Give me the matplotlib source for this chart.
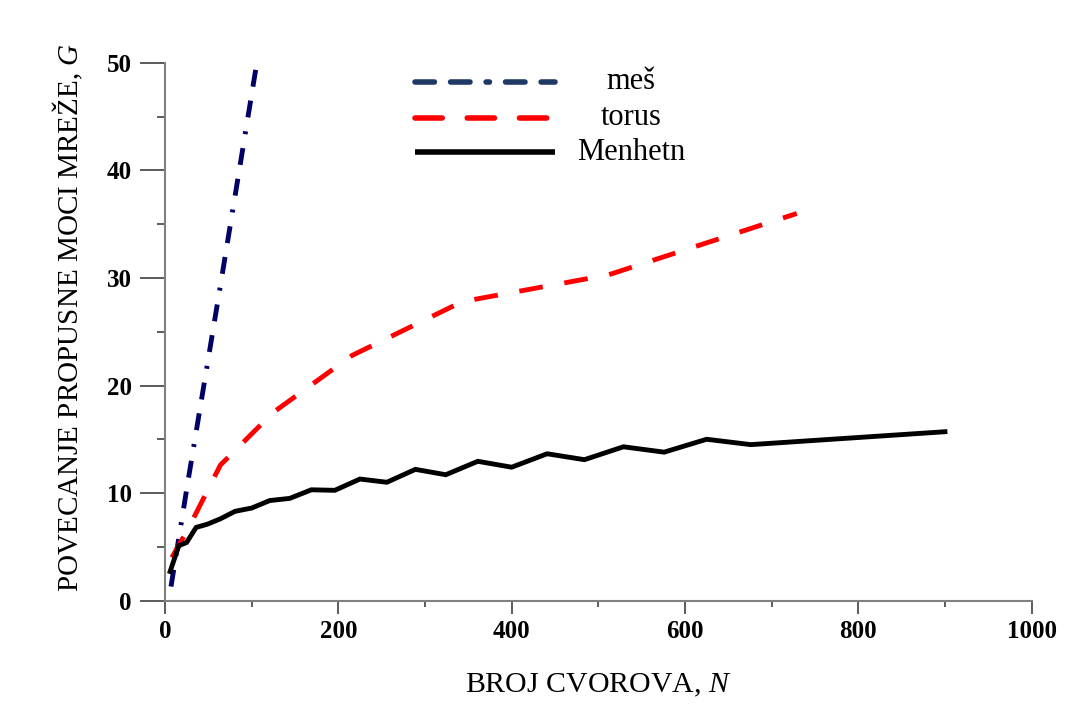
import matplotlib.pyplot as plt
from matplotlib.lines import Line2D

plt.rcParams['font.family'] = ['Liberation Serif', 'DejaVu Serif']
plt.rcParams['mathtext.fontset'] = 'custom'
plt.rcParams['mathtext.rm'] = 'Liberation Serif'
plt.rcParams['mathtext.it'] = 'Liberation Serif:italic'

# data
mesh_n = [7, 27, 64, 106]
mesh_g = [1.3, 11.3, 29.3, 50.0]

torus_n = [8, 27, 64, 125, 216, 343, 512, 729]
torus_g = [4.0, 6.7, 12.6, 17.5, 22.8, 27.8, 30.3, 36.0]

manh_n = [6, 16, 25, 36, 49, 64, 81, 100, 121, 144, 169, 196, 225, 256, 289,
          324, 361, 400, 441, 484, 529, 576, 625, 676, 900]
manh_g = [2.7, 5.1, 5.4, 6.8, 7.1, 7.6, 8.3, 8.6, 9.3, 9.5, 10.3, 10.25, 11.3,
          11.0, 12.2, 11.7, 12.95, 12.4, 13.65, 13.1, 14.3, 13.8, 15.0, 14.5, 15.7]

labels = ['meš', 'torus', 'Menhetn']

fig = plt.figure(figsize=(10.78, 7.06), dpi=100)
ax = fig.add_axes([0.153, 0.1494, 0.804, 0.7614])

lw = 3.5
mesh_style = (0, (3.5, 2.9, 3.5, 2.9, 0.6, 2.9))
torus_style = (0, (4.9, 4.5))
ax.plot(mesh_n, mesh_g, color='#000066', lw=lw, linestyle=mesh_style,
        dash_capstyle='butt')
ax.plot(torus_n, torus_g, color='#ff0000', lw=lw, linestyle=torus_style,
        dash_capstyle='butt')
ax.plot(manh_n, manh_g, color='black', lw=lw, solid_joinstyle='miter')

ax.set_xlim(0, 1000)
ax.set_ylim(0, 50)
ax.set_xticks(range(0, 1001, 200))
ax.set_xticks(range(100, 1000, 200), minor=True)
ax.set_yticks(range(0, 51, 10))
ax.set_yticks(range(5, 50, 10), minor=True)

for s in ['top', 'right']:
    ax.spines[s].set_visible(False)
for s in ['left', 'bottom']:
    ax.spines[s].set_color('#808080')
    ax.spines[s].set_linewidth(1.5)

ax.tick_params(axis='x', which='major', length=9, width=1.2, color='#404040',
               direction='out', pad=5)
ax.tick_params(axis='x', which='minor', length=4, width=1.2, color='#404040',
               direction='out')
ax.tick_params(axis='y', which='major', length=18, width=1.2, color='#404040',
               direction='out', pad=6)
ax.tick_params(axis='y', which='minor', length=6, width=1.2, color='#404040',
               direction='out')
for t in ax.get_xticklabels() + ax.get_yticklabels():
    t.set_fontweight('bold')
    t.set_fontsize(18)

ax.set_xlabel('BROJ CVOROVA, $\\mathit{N}$', fontsize=21.5, labelpad=21)
ax.set_ylabel('POVECANJE PROPUSNE MOCI MREŽE, $\\mathit{G}$', fontsize=21)
ax.yaxis.set_label_coords(-0.092, 0.526)

# legend drawn by hand, text centred to the right of the lines
styles = [dict(color='#1f3864', linestyle=mesh_style),
          dict(color='#ff0000', linestyle=torus_style),
          dict(color='black', linestyle='-')]
ys = [0.965, 0.898, 0.834]
for lab, st, yy in zip(labels, styles, ys):
    ax.add_line(Line2D([0.289, 0.45], [yy, yy], transform=ax.transAxes,
                       lw=lw + 0.5, solid_capstyle='butt',
                       dash_capstyle='round', **st))
    ax.text(0.538, yy, lab, transform=ax.transAxes, ha='center',
            va='center', fontsize=22)

fig.savefig('out.png', dpi=100)
